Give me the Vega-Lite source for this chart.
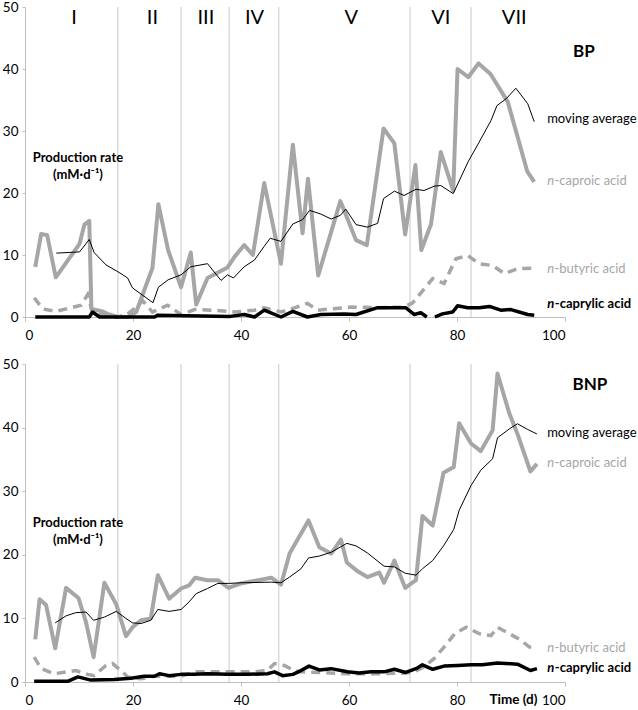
{
  "$schema": "https://vega.github.io/schema/vega-lite/v6.json",
  "description": "Production rates of carboxylic acids in BP and BNP reactors over time, by phase.",
  "padding": {"left": 2, "top": 0, "right": 0, "bottom": 0},
  "spacing": 15,
  "config": {
    "view": {"stroke": null},
    "font": "Lato",
    "axis": {
      "grid": false,
      "labelFont": "Lato",
      "labelFontSize": 13.5,
      "labelColor": "#000000",
      "domainColor": "#bfbfbf",
      "tickColor": "#bfbfbf",
      "tickSize": 4
    },
    "axisX": {
      "tickCount": 5,
      "labelPadding": 7,
      "titleFont": "Lato",
      "titleFontSize": 13.5,
      "titleFontWeight": "bold",
      "titleColor": "#000000",
      "titleX": 488,
      "titleY": 17,
      "titleAlign": "center",
      "titleBaseline": "middle"
    },
    "axisY": {"tickCount": 5, "labelPadding": 4, "tickSize": 3}
  },
  "datasets": {
    "phases": [
      {"x": 17.2}, {"x": 28.9}, {"x": 37.8}, {"x": 47.0}, {"x": 71.3}, {"x": 82.6}
    ],
    "series": [
      {"p": "BP", "s": "caproic", "x": 1.9, "y": 8.1},
      {"p": "BP", "s": "caproic", "x": 3.0, "y": 13.4},
      {"p": "BP", "s": "caproic", "x": 4.1, "y": 13.2},
      {"p": "BP", "s": "caproic", "x": 5.7, "y": 6.4},
      {"p": "BP", "s": "caproic", "x": 10.1, "y": 11.8},
      {"p": "BP", "s": "caproic", "x": 11.0, "y": 14.9},
      {"p": "BP", "s": "caproic", "x": 11.9, "y": 15.5},
      {"p": "BP", "s": "caproic", "x": 12.3, "y": 1.3},
      {"p": "BP", "s": "caproic", "x": 14.4, "y": 0.9},
      {"p": "BP", "s": "caproic", "x": 15.3, "y": 0.5},
      {"p": "BP", "s": "caproic", "x": 17.2, "y": 0},
      {"p": "BP", "s": "caproic", "x": 19.0, "y": 0},
      {"p": "BP", "s": "caproic", "x": 20.6, "y": 0.8},
      {"p": "BP", "s": "caproic", "x": 23.6, "y": 7.9},
      {"p": "BP", "s": "caproic", "x": 24.7, "y": 18.2},
      {"p": "BP", "s": "caproic", "x": 26.5, "y": 10.8},
      {"p": "BP", "s": "caproic", "x": 28.9, "y": 4.8},
      {"p": "BP", "s": "caproic", "x": 30.7, "y": 10.4},
      {"p": "BP", "s": "caproic", "x": 31.7, "y": 2.0},
      {"p": "BP", "s": "caproic", "x": 33.8, "y": 6.3},
      {"p": "BP", "s": "caproic", "x": 37.5, "y": 8.0},
      {"p": "BP", "s": "caproic", "x": 38.8, "y": 9.7},
      {"p": "BP", "s": "caproic", "x": 40.6, "y": 11.6},
      {"p": "BP", "s": "caproic", "x": 42.2, "y": 10.0},
      {"p": "BP", "s": "caproic", "x": 44.3, "y": 21.6},
      {"p": "BP", "s": "caproic", "x": 47.4, "y": 8.6},
      {"p": "BP", "s": "caproic", "x": 49.6, "y": 27.8},
      {"p": "BP", "s": "caproic", "x": 51.4, "y": 13.5},
      {"p": "BP", "s": "caproic", "x": 52.4, "y": 22.3},
      {"p": "BP", "s": "caproic", "x": 54.3, "y": 6.7},
      {"p": "BP", "s": "caproic", "x": 58.4, "y": 18.7},
      {"p": "BP", "s": "caproic", "x": 61.3, "y": 12.4},
      {"p": "BP", "s": "caproic", "x": 63.3, "y": 11.6},
      {"p": "BP", "s": "caproic", "x": 66.4, "y": 30.4},
      {"p": "BP", "s": "caproic", "x": 68.4, "y": 28.0},
      {"p": "BP", "s": "caproic", "x": 70.4, "y": 13.3},
      {"p": "BP", "s": "caproic", "x": 72.3, "y": 24.5},
      {"p": "BP", "s": "caproic", "x": 73.4, "y": 10.8},
      {"p": "BP", "s": "caproic", "x": 75.2, "y": 15.0},
      {"p": "BP", "s": "caproic", "x": 77.0, "y": 26.6},
      {"p": "BP", "s": "caproic", "x": 79.3, "y": 20.4},
      {"p": "BP", "s": "caproic", "x": 80.1, "y": 40.0},
      {"p": "BP", "s": "caproic", "x": 82.1, "y": 38.7},
      {"p": "BP", "s": "caproic", "x": 84.0, "y": 40.9},
      {"p": "BP", "s": "caproic", "x": 86.2, "y": 39.2},
      {"p": "BP", "s": "caproic", "x": 89.4, "y": 34.7},
      {"p": "BP", "s": "caproic", "x": 93.0, "y": 23.5},
      {"p": "BP", "s": "caproic", "x": 94.3, "y": 21.8},

      {"p": "BP", "s": "ma", "x": 5.8, "y": 10.3},
      {"p": "BP", "s": "ma", "x": 10.1, "y": 10.5},
      {"p": "BP", "s": "ma", "x": 11.9, "y": 12.5},
      {"p": "BP", "s": "ma", "x": 12.8, "y": 10.4},
      {"p": "BP", "s": "ma", "x": 15.0, "y": 8.4},
      {"p": "BP", "s": "ma", "x": 17.2, "y": 7.3},
      {"p": "BP", "s": "ma", "x": 19.0, "y": 6.3},
      {"p": "BP", "s": "ma", "x": 19.9, "y": 4.7},
      {"p": "BP", "s": "ma", "x": 23.7, "y": 2.3},
      {"p": "BP", "s": "ma", "x": 24.7, "y": 4.8},
      {"p": "BP", "s": "ma", "x": 26.5, "y": 6.0},
      {"p": "BP", "s": "ma", "x": 28.9, "y": 6.8},
      {"p": "BP", "s": "ma", "x": 30.7, "y": 8.1},
      {"p": "BP", "s": "ma", "x": 33.8, "y": 8.6},
      {"p": "BP", "s": "ma", "x": 36.3, "y": 5.9},
      {"p": "BP", "s": "ma", "x": 37.5, "y": 6.8},
      {"p": "BP", "s": "ma", "x": 38.6, "y": 6.3},
      {"p": "BP", "s": "ma", "x": 40.6, "y": 8.1},
      {"p": "BP", "s": "ma", "x": 42.5, "y": 9.2},
      {"p": "BP", "s": "ma", "x": 44.3, "y": 11.4},
      {"p": "BP", "s": "ma", "x": 45.4, "y": 12.7},
      {"p": "BP", "s": "ma", "x": 47.4, "y": 12.2},
      {"p": "BP", "s": "ma", "x": 49.6, "y": 15.0},
      {"p": "BP", "s": "ma", "x": 51.4, "y": 15.7},
      {"p": "BP", "s": "ma", "x": 52.7, "y": 17.2},
      {"p": "BP", "s": "ma", "x": 54.8, "y": 16.6},
      {"p": "BP", "s": "ma", "x": 56.7, "y": 15.8},
      {"p": "BP", "s": "ma", "x": 58.4, "y": 16.4},
      {"p": "BP", "s": "ma", "x": 59.4, "y": 17.4},
      {"p": "BP", "s": "ma", "x": 61.3, "y": 14.9},
      {"p": "BP", "s": "ma", "x": 63.4, "y": 14.5},
      {"p": "BP", "s": "ma", "x": 65.3, "y": 15.1},
      {"p": "BP", "s": "ma", "x": 66.4, "y": 19.1},
      {"p": "BP", "s": "ma", "x": 68.4, "y": 20.3},
      {"p": "BP", "s": "ma", "x": 70.2, "y": 19.6},
      {"p": "BP", "s": "ma", "x": 72.4, "y": 20.6},
      {"p": "BP", "s": "ma", "x": 73.9, "y": 20.4},
      {"p": "BP", "s": "ma", "x": 75.8, "y": 21.1},
      {"p": "BP", "s": "ma", "x": 77.0, "y": 21.2},
      {"p": "BP", "s": "ma", "x": 79.3, "y": 19.9},
      {"p": "BP", "s": "ma", "x": 82.1, "y": 25.1},
      {"p": "BP", "s": "ma", "x": 84.1, "y": 28.2},
      {"p": "BP", "s": "ma", "x": 86.3, "y": 31.7},
      {"p": "BP", "s": "ma", "x": 87.4, "y": 34.1},
      {"p": "BP", "s": "ma", "x": 89.1, "y": 35.2},
      {"p": "BP", "s": "ma", "x": 90.9, "y": 36.9},
      {"p": "BP", "s": "ma", "x": 93.1, "y": 34.4},
      {"p": "BP", "s": "ma", "x": 94.3, "y": 31.5},

      {"p": "BP", "s": "butyric", "x": 1.7, "y": 3.1},
      {"p": "BP", "s": "butyric", "x": 3.3, "y": 1.3},
      {"p": "BP", "s": "butyric", "x": 5.7, "y": 0.9},
      {"p": "BP", "s": "butyric", "x": 10.4, "y": 1.9},
      {"p": "BP", "s": "butyric", "x": 11.6, "y": 3.6},
      {"p": "BP", "s": "butyric", "x": 12.5, "y": 0.8},
      {"p": "BP", "s": "butyric", "x": 14.4, "y": 0.3},
      {"p": "BP", "s": "butyric", "x": 17.2, "y": 0},
      {"p": "BP", "s": "butyric", "x": 19.0, "y": 0.5},
      {"p": "BP", "s": "butyric", "x": 20.6, "y": 1.6},
      {"p": "BP", "s": "butyric", "x": 21.8, "y": 2.6},
      {"p": "BP", "s": "butyric", "x": 23.6, "y": 0.8},
      {"p": "BP", "s": "butyric", "x": 26.4, "y": 1.9},
      {"p": "BP", "s": "butyric", "x": 28.9, "y": 0.4},
      {"p": "BP", "s": "butyric", "x": 31.4, "y": 1.2},
      {"p": "BP", "s": "butyric", "x": 34.8, "y": 1.1},
      {"p": "BP", "s": "butyric", "x": 38.8, "y": 0.8},
      {"p": "BP", "s": "butyric", "x": 42.5, "y": 1.1},
      {"p": "BP", "s": "butyric", "x": 44.3, "y": 1.5},
      {"p": "BP", "s": "butyric", "x": 47.4, "y": 0.8},
      {"p": "BP", "s": "butyric", "x": 49.6, "y": 1.4},
      {"p": "BP", "s": "butyric", "x": 52.3, "y": 2.2},
      {"p": "BP", "s": "butyric", "x": 54.2, "y": 1.1},
      {"p": "BP", "s": "butyric", "x": 60.4, "y": 1.6},
      {"p": "BP", "s": "butyric", "x": 65.3, "y": 1.5},
      {"p": "BP", "s": "butyric", "x": 70.2, "y": 1.6},
      {"p": "BP", "s": "butyric", "x": 71.8, "y": 2.3},
      {"p": "BP", "s": "butyric", "x": 75.5, "y": 6.2},
      {"p": "BP", "s": "butyric", "x": 77.6, "y": 5.4},
      {"p": "BP", "s": "butyric", "x": 79.8, "y": 9.4},
      {"p": "BP", "s": "butyric", "x": 82.0, "y": 9.9},
      {"p": "BP", "s": "butyric", "x": 84.1, "y": 8.6},
      {"p": "BP", "s": "butyric", "x": 86.6, "y": 8.3},
      {"p": "BP", "s": "butyric", "x": 88.8, "y": 7.0},
      {"p": "BP", "s": "butyric", "x": 91.2, "y": 7.8},
      {"p": "BP", "s": "butyric", "x": 94.3, "y": 7.9},

      {"p": "BP", "s": "caprylic", "x": 1.9, "y": 0},
      {"p": "BP", "s": "caprylic", "x": 11.9, "y": 0},
      {"p": "BP", "s": "caprylic", "x": 12.5, "y": 0.8},
      {"p": "BP", "s": "caprylic", "x": 13.8, "y": 0},
      {"p": "BP", "s": "caprylic", "x": 24.0, "y": 0},
      {"p": "BP", "s": "caprylic", "x": 24.6, "y": 0.3},
      {"p": "BP", "s": "caprylic", "x": 30.0, "y": 0.2},
      {"p": "BP", "s": "caprylic", "x": 38.0, "y": 0.1},
      {"p": "BP", "s": "caprylic", "x": 40.6, "y": 0.4},
      {"p": "BP", "s": "caprylic", "x": 42.5, "y": 0},
      {"p": "BP", "s": "caprylic", "x": 44.3, "y": 1.1},
      {"p": "BP", "s": "caprylic", "x": 47.4, "y": 0},
      {"p": "BP", "s": "caprylic", "x": 49.6, "y": 0.9},
      {"p": "BP", "s": "caprylic", "x": 52.3, "y": 0},
      {"p": "BP", "s": "caprylic", "x": 54.8, "y": 0.4},
      {"p": "BP", "s": "caprylic", "x": 59.1, "y": 0.5},
      {"p": "BP", "s": "caprylic", "x": 61.3, "y": 0.4},
      {"p": "BP", "s": "caprylic", "x": 65.3, "y": 1.5},
      {"p": "BP", "s": "caprylic", "x": 69.0, "y": 1.5},
      {"p": "BP", "s": "caprylic", "x": 70.5, "y": 1.5},
      {"p": "BP", "s": "caprylic", "x": 72.1, "y": 0.4},
      {"p": "BP", "s": "caprylic", "x": 73.3, "y": 0.7},
      {"p": "BP", "s": "caprylic", "x": 74.4, "y": 0},
      {"p": "BP", "s": "caprylic", "x": 74.8, "y": null},
      {"p": "BP", "s": "caprylic", "x": 75.9, "y": 0},
      {"p": "BP", "s": "caprylic", "x": 77.3, "y": 0.5},
      {"p": "BP", "s": "caprylic", "x": 79.2, "y": 0.8},
      {"p": "BP", "s": "caprylic", "x": 80.1, "y": 1.8},
      {"p": "BP", "s": "caprylic", "x": 82.0, "y": 1.5},
      {"p": "BP", "s": "caprylic", "x": 84.1, "y": 1.5},
      {"p": "BP", "s": "caprylic", "x": 86.0, "y": 1.7},
      {"p": "BP", "s": "caprylic", "x": 88.1, "y": 1.1},
      {"p": "BP", "s": "caprylic", "x": 90.0, "y": 1.2},
      {"p": "BP", "s": "caprylic", "x": 93.1, "y": 0.4},
      {"p": "BP", "s": "caprylic", "x": 94.3, "y": 0.3},

      {"p": "BNP", "s": "caproic", "x": 1.9, "y": 6.7},
      {"p": "BNP", "s": "caproic", "x": 2.7, "y": 13.0},
      {"p": "BNP", "s": "caproic", "x": 3.9, "y": 12.1},
      {"p": "BNP", "s": "caproic", "x": 5.6, "y": 5.3},
      {"p": "BNP", "s": "caproic", "x": 7.6, "y": 14.8},
      {"p": "BNP", "s": "caproic", "x": 9.9, "y": 13.2},
      {"p": "BNP", "s": "caproic", "x": 11.3, "y": 9.4},
      {"p": "BNP", "s": "caproic", "x": 12.7, "y": 3.9},
      {"p": "BNP", "s": "caproic", "x": 14.7, "y": 15.6},
      {"p": "BNP", "s": "caproic", "x": 16.9, "y": 12.2},
      {"p": "BNP", "s": "caproic", "x": 18.7, "y": 7.2},
      {"p": "BNP", "s": "caproic", "x": 19.9, "y": 8.6},
      {"p": "BNP", "s": "caproic", "x": 21.5, "y": 9.7},
      {"p": "BNP", "s": "caproic", "x": 23.3, "y": 10.0},
      {"p": "BNP", "s": "caproic", "x": 24.6, "y": 16.8},
      {"p": "BNP", "s": "caproic", "x": 26.7, "y": 13.1},
      {"p": "BNP", "s": "caproic", "x": 28.9, "y": 14.7},
      {"p": "BNP", "s": "caproic", "x": 30.4, "y": 15.2},
      {"p": "BNP", "s": "caproic", "x": 31.5, "y": 16.4},
      {"p": "BNP", "s": "caproic", "x": 33.8, "y": 16.0},
      {"p": "BNP", "s": "caproic", "x": 35.7, "y": 16.0},
      {"p": "BNP", "s": "caproic", "x": 37.7, "y": 14.8},
      {"p": "BNP", "s": "caproic", "x": 40.0, "y": 15.5},
      {"p": "BNP", "s": "caproic", "x": 45.6, "y": 16.4},
      {"p": "BNP", "s": "caproic", "x": 47.4, "y": 15.3},
      {"p": "BNP", "s": "caproic", "x": 49.0, "y": 20.2},
      {"p": "BNP", "s": "caproic", "x": 52.5, "y": 25.4},
      {"p": "BNP", "s": "caproic", "x": 54.5, "y": 21.2},
      {"p": "BNP", "s": "caproic", "x": 56.7, "y": 20.2},
      {"p": "BNP", "s": "caproic", "x": 58.5, "y": 22.4},
      {"p": "BNP", "s": "caproic", "x": 59.6, "y": 18.8},
      {"p": "BNP", "s": "caproic", "x": 61.6, "y": 17.4},
      {"p": "BNP", "s": "caproic", "x": 63.4, "y": 16.5},
      {"p": "BNP", "s": "caproic", "x": 65.6, "y": 17.2},
      {"p": "BNP", "s": "caproic", "x": 66.5, "y": 15.6},
      {"p": "BNP", "s": "caproic", "x": 68.4, "y": 19.1},
      {"p": "BNP", "s": "caproic", "x": 70.4, "y": 14.8},
      {"p": "BNP", "s": "caproic", "x": 72.4, "y": 16.0},
      {"p": "BNP", "s": "caproic", "x": 73.6, "y": 26.1},
      {"p": "BNP", "s": "caproic", "x": 75.5, "y": 24.6},
      {"p": "BNP", "s": "caproic", "x": 77.5, "y": 32.9},
      {"p": "BNP", "s": "caproic", "x": 79.4, "y": 33.8},
      {"p": "BNP", "s": "caproic", "x": 80.4, "y": 40.7},
      {"p": "BNP", "s": "caproic", "x": 82.6, "y": 37.5},
      {"p": "BNP", "s": "caproic", "x": 84.4, "y": 36.3},
      {"p": "BNP", "s": "caproic", "x": 86.6, "y": 39.6},
      {"p": "BNP", "s": "caproic", "x": 87.5, "y": 48.5},
      {"p": "BNP", "s": "caproic", "x": 89.7, "y": 42.2},
      {"p": "BNP", "s": "caproic", "x": 91.2, "y": 39.0},
      {"p": "BNP", "s": "caproic", "x": 93.6, "y": 33.1},
      {"p": "BNP", "s": "caproic", "x": 94.8, "y": 34.3},

      {"p": "BNP", "s": "ma", "x": 5.6, "y": 9.3},
      {"p": "BNP", "s": "ma", "x": 7.6, "y": 10.4},
      {"p": "BNP", "s": "ma", "x": 9.4, "y": 10.9},
      {"p": "BNP", "s": "ma", "x": 11.3, "y": 11.0},
      {"p": "BNP", "s": "ma", "x": 12.7, "y": 9.7},
      {"p": "BNP", "s": "ma", "x": 14.7, "y": 10.2},
      {"p": "BNP", "s": "ma", "x": 16.9, "y": 11.1},
      {"p": "BNP", "s": "ma", "x": 18.7, "y": 10.0},
      {"p": "BNP", "s": "ma", "x": 19.9, "y": 9.3},
      {"p": "BNP", "s": "ma", "x": 21.5, "y": 9.2},
      {"p": "BNP", "s": "ma", "x": 23.3, "y": 9.7},
      {"p": "BNP", "s": "ma", "x": 24.6, "y": 11.4},
      {"p": "BNP", "s": "ma", "x": 26.7, "y": 11.1},
      {"p": "BNP", "s": "ma", "x": 28.9, "y": 11.4},
      {"p": "BNP", "s": "ma", "x": 30.4, "y": 12.6},
      {"p": "BNP", "s": "ma", "x": 31.7, "y": 13.9},
      {"p": "BNP", "s": "ma", "x": 33.8, "y": 14.7},
      {"p": "BNP", "s": "ma", "x": 35.7, "y": 15.5},
      {"p": "BNP", "s": "ma", "x": 37.7, "y": 15.5},
      {"p": "BNP", "s": "ma", "x": 40.0, "y": 15.6},
      {"p": "BNP", "s": "ma", "x": 45.6, "y": 15.7},
      {"p": "BNP", "s": "ma", "x": 47.4, "y": 15.6},
      {"p": "BNP", "s": "ma", "x": 49.0, "y": 16.5},
      {"p": "BNP", "s": "ma", "x": 51.1, "y": 17.8},
      {"p": "BNP", "s": "ma", "x": 52.5, "y": 19.5},
      {"p": "BNP", "s": "ma", "x": 54.5, "y": 19.8},
      {"p": "BNP", "s": "ma", "x": 56.7, "y": 20.4},
      {"p": "BNP", "s": "ma", "x": 59.6, "y": 21.8},
      {"p": "BNP", "s": "ma", "x": 61.3, "y": 21.4},
      {"p": "BNP", "s": "ma", "x": 63.4, "y": 20.3},
      {"p": "BNP", "s": "ma", "x": 66.5, "y": 18.2},
      {"p": "BNP", "s": "ma", "x": 68.4, "y": 18.1},
      {"p": "BNP", "s": "ma", "x": 70.4, "y": 17.1},
      {"p": "BNP", "s": "ma", "x": 72.4, "y": 16.8},
      {"p": "BNP", "s": "ma", "x": 73.6, "y": 17.8},
      {"p": "BNP", "s": "ma", "x": 75.5, "y": 19.1},
      {"p": "BNP", "s": "ma", "x": 77.5, "y": 21.4},
      {"p": "BNP", "s": "ma", "x": 79.4, "y": 24.0},
      {"p": "BNP", "s": "ma", "x": 80.4, "y": 27.0},
      {"p": "BNP", "s": "ma", "x": 82.6, "y": 30.9},
      {"p": "BNP", "s": "ma", "x": 84.4, "y": 33.3},
      {"p": "BNP", "s": "ma", "x": 86.6, "y": 35.1},
      {"p": "BNP", "s": "ma", "x": 87.5, "y": 38.4},
      {"p": "BNP", "s": "ma", "x": 89.7, "y": 39.8},
      {"p": "BNP", "s": "ma", "x": 91.2, "y": 40.6},
      {"p": "BNP", "s": "ma", "x": 93.1, "y": 39.7},
      {"p": "BNP", "s": "ma", "x": 94.8, "y": 39.0},

      {"p": "BNP", "s": "butyric", "x": 1.7, "y": 3.9},
      {"p": "BNP", "s": "butyric", "x": 3.0, "y": 2.1},
      {"p": "BNP", "s": "butyric", "x": 5.4, "y": 1.3},
      {"p": "BNP", "s": "butyric", "x": 7.9, "y": 1.6},
      {"p": "BNP", "s": "butyric", "x": 9.4, "y": 1.8},
      {"p": "BNP", "s": "butyric", "x": 11.6, "y": 1.2},
      {"p": "BNP", "s": "butyric", "x": 12.8, "y": 1.0},
      {"p": "BNP", "s": "butyric", "x": 15.0, "y": 2.6},
      {"p": "BNP", "s": "butyric", "x": 16.2, "y": 2.9},
      {"p": "BNP", "s": "butyric", "x": 17.8, "y": 1.8},
      {"p": "BNP", "s": "butyric", "x": 19.0, "y": 0.8},
      {"p": "BNP", "s": "butyric", "x": 21.5, "y": 0.5},
      {"p": "BNP", "s": "butyric", "x": 24.0, "y": 0.9},
      {"p": "BNP", "s": "butyric", "x": 28.9, "y": 0.9},
      {"p": "BNP", "s": "butyric", "x": 31.4, "y": 1.6},
      {"p": "BNP", "s": "butyric", "x": 38.8, "y": 1.6},
      {"p": "BNP", "s": "butyric", "x": 42.5, "y": 1.6},
      {"p": "BNP", "s": "butyric", "x": 44.9, "y": 1.8},
      {"p": "BNP", "s": "butyric", "x": 46.2, "y": 2.9},
      {"p": "BNP", "s": "butyric", "x": 48.0, "y": 2.6},
      {"p": "BNP", "s": "butyric", "x": 49.9, "y": 1.8},
      {"p": "BNP", "s": "butyric", "x": 51.1, "y": 1.6},
      {"p": "BNP", "s": "butyric", "x": 54.5, "y": 1.5},
      {"p": "BNP", "s": "butyric", "x": 60.0, "y": 1.3},
      {"p": "BNP", "s": "butyric", "x": 66.0, "y": 1.3},
      {"p": "BNP", "s": "butyric", "x": 70.5, "y": 1.4},
      {"p": "BNP", "s": "butyric", "x": 72.1, "y": 1.6},
      {"p": "BNP", "s": "butyric", "x": 73.9, "y": 2.4},
      {"p": "BNP", "s": "butyric", "x": 75.8, "y": 3.7},
      {"p": "BNP", "s": "butyric", "x": 77.6, "y": 5.5},
      {"p": "BNP", "s": "butyric", "x": 79.6, "y": 7.6},
      {"p": "BNP", "s": "butyric", "x": 81.7, "y": 8.6},
      {"p": "BNP", "s": "butyric", "x": 84.1, "y": 7.6},
      {"p": "BNP", "s": "butyric", "x": 86.3, "y": 7.3},
      {"p": "BNP", "s": "butyric", "x": 87.5, "y": 8.6},
      {"p": "BNP", "s": "butyric", "x": 89.7, "y": 7.6},
      {"p": "BNP", "s": "butyric", "x": 91.8, "y": 6.6},
      {"p": "BNP", "s": "butyric", "x": 93.4, "y": 5.5},
      {"p": "BNP", "s": "butyric", "x": 94.8, "y": 5.5},

      {"p": "BNP", "s": "caprylic", "x": 1.7, "y": 0.1},
      {"p": "BNP", "s": "caprylic", "x": 7.9, "y": 0.1},
      {"p": "BNP", "s": "caprylic", "x": 9.8, "y": 0.8},
      {"p": "BNP", "s": "caprylic", "x": 12.2, "y": 0.3},
      {"p": "BNP", "s": "caprylic", "x": 16.5, "y": 0.4},
      {"p": "BNP", "s": "caprylic", "x": 19.6, "y": 0.6},
      {"p": "BNP", "s": "caprylic", "x": 22.1, "y": 0.9},
      {"p": "BNP", "s": "caprylic", "x": 24.0, "y": 0.9},
      {"p": "BNP", "s": "caprylic", "x": 24.9, "y": 1.3},
      {"p": "BNP", "s": "caprylic", "x": 26.7, "y": 1.0},
      {"p": "BNP", "s": "caprylic", "x": 28.9, "y": 1.2},
      {"p": "BNP", "s": "caprylic", "x": 31.4, "y": 1.2},
      {"p": "BNP", "s": "caprylic", "x": 33.8, "y": 1.3},
      {"p": "BNP", "s": "caprylic", "x": 37.5, "y": 1.2},
      {"p": "BNP", "s": "caprylic", "x": 41.2, "y": 1.2},
      {"p": "BNP", "s": "caprylic", "x": 44.9, "y": 1.3},
      {"p": "BNP", "s": "caprylic", "x": 46.2, "y": 1.6},
      {"p": "BNP", "s": "caprylic", "x": 47.7, "y": 1.0},
      {"p": "BNP", "s": "caprylic", "x": 49.6, "y": 1.2},
      {"p": "BNP", "s": "caprylic", "x": 51.1, "y": 1.8},
      {"p": "BNP", "s": "caprylic", "x": 52.6, "y": 2.5},
      {"p": "BNP", "s": "caprylic", "x": 54.5, "y": 1.9},
      {"p": "BNP", "s": "caprylic", "x": 56.7, "y": 2.1},
      {"p": "BNP", "s": "caprylic", "x": 59.7, "y": 1.6},
      {"p": "BNP", "s": "caprylic", "x": 61.9, "y": 1.4},
      {"p": "BNP", "s": "caprylic", "x": 64.1, "y": 1.6},
      {"p": "BNP", "s": "caprylic", "x": 66.5, "y": 1.6},
      {"p": "BNP", "s": "caprylic", "x": 68.4, "y": 2.0},
      {"p": "BNP", "s": "caprylic", "x": 70.5, "y": 1.5},
      {"p": "BNP", "s": "caprylic", "x": 72.4, "y": 2.1},
      {"p": "BNP", "s": "caprylic", "x": 73.6, "y": 2.7},
      {"p": "BNP", "s": "caprylic", "x": 75.5, "y": 2.0},
      {"p": "BNP", "s": "caprylic", "x": 77.6, "y": 2.5},
      {"p": "BNP", "s": "caprylic", "x": 80.1, "y": 2.6},
      {"p": "BNP", "s": "caprylic", "x": 82.6, "y": 2.7},
      {"p": "BNP", "s": "caprylic", "x": 84.7, "y": 2.7},
      {"p": "BNP", "s": "caprylic", "x": 87.5, "y": 3.0},
      {"p": "BNP", "s": "caprylic", "x": 91.2, "y": 2.8},
      {"p": "BNP", "s": "caprylic", "x": 93.6, "y": 1.8},
      {"p": "BNP", "s": "caprylic", "x": 94.8, "y": 2.1}
    ],
    "labels": [
      {"p": "BP", "s": "ma", "rest": "moving average", "x": 96.7, "y": 32.0},
      {"p": "BP", "s": "caproic", "rest": "-caproic acid", "x": 96.7, "y": 21.9},
      {"p": "BP", "s": "butyric", "rest": "-butyric acid", "x": 96.7, "y": 7.8},
      {"p": "BP", "s": "caprylic", "rest": "-caprylic acid", "x": 96.7, "y": 2.1},
      {"p": "BNP", "s": "ma", "rest": "moving average", "x": 96.7, "y": 39.2},
      {"p": "BNP", "s": "caproic", "rest": "-caproic acid", "x": 96.7, "y": 34.4},
      {"p": "BNP", "s": "butyric", "rest": "-butyric acid", "x": 96.7, "y": 5.4},
      {"p": "BNP", "s": "caprylic", "rest": "-caprylic acid", "x": 96.7, "y": 2.2}
    ],
    "notes": [
      {"p": "BP", "k": "title", "t": "BP", "x": 103.5, "y": 42.7},
      {"p": "BNP", "k": "title", "t": "BNP", "x": 104.6, "y": 46.7},
      {"p": "BP", "k": "unit", "t": "Production rate\n(mM·d⁻¹)", "x": 9.8, "y": 25.6},
      {"p": "BNP", "k": "unit", "t": "Production rate\n(mM·d⁻¹)", "x": 9.8, "y": 25.0},
      {"p": "BP", "k": "phase", "t": "I", "x": 9.1, "y": 48.3},
      {"p": "BP", "k": "phase", "t": "II", "x": 23.6, "y": 48.3},
      {"p": "BP", "k": "phase", "t": "III", "x": 33.5, "y": 48.3},
      {"p": "BP", "k": "phase", "t": "IV", "x": 42.5, "y": 48.3},
      {"p": "BP", "k": "phase", "t": "V", "x": 60.4, "y": 48.3},
      {"p": "BP", "k": "phase", "t": "VI", "x": 77.0, "y": 48.3},
      {"p": "BP", "k": "phase", "t": "VII", "x": 90.6, "y": 48.3}
    ]
  },
  "vconcat": [
    {
      "width": 540,
      "height": 310,
      "layer": [
        {
          "data": {"name": "phases"},
          "mark": {"type": "rule", "color": "#c8c8c8", "strokeWidth": 1},
          "encoding": {
            "x": {"field": "x", "type": "quantitative", "scale": {"domain": [0, 100], "nice": false}, "title": null}
          }
        },
        {
          "data": {"name": "series"},
          "transform": [{"filter": "datum.p == 'BP' && datum.s == 'butyric'"}],
          "mark": {"type": "line", "color": "#a6a6a6", "strokeWidth": 3.5, "strokeDash": [9, 6]},
          "encoding": {
            "x": {"field": "x", "type": "quantitative", "scale": {"domain": [0, 100], "nice": false}, "title": null},
            "y": {"field": "y", "type": "quantitative", "scale": {"domain": [0, 50], "nice": false}, "title": null}
          }
        },
        {
          "data": {"name": "series"},
          "transform": [{"filter": "datum.p == 'BP' && datum.s == 'caproic'"}],
          "mark": {"type": "line", "color": "#a6a6a6", "strokeWidth": 4, "strokeJoin": "round"},
          "encoding": {
            "x": {"field": "x", "type": "quantitative", "scale": {"domain": [0, 100], "nice": false}, "title": null},
            "y": {"field": "y", "type": "quantitative", "scale": {"domain": [0, 50], "nice": false}, "title": null}
          }
        },
        {
          "data": {"name": "series"},
          "transform": [{"filter": "datum.p == 'BP' && datum.s == 'caprylic'"}],
          "mark": {"type": "line", "color": "#000000", "strokeWidth": 3.5, "strokeJoin": "round"},
          "encoding": {
            "x": {"field": "x", "type": "quantitative", "scale": {"domain": [0, 100], "nice": false}, "title": null},
            "y": {"field": "y", "type": "quantitative", "scale": {"domain": [0, 50], "nice": false}, "title": null}
          }
        },
        {
          "data": {"name": "series"},
          "transform": [{"filter": "datum.p == 'BP' && datum.s == 'ma'"}],
          "mark": {"type": "line", "color": "#000000", "strokeWidth": 1},
          "encoding": {
            "x": {"field": "x", "type": "quantitative", "scale": {"domain": [0, 100], "nice": false}, "title": null},
            "y": {"field": "y", "type": "quantitative", "scale": {"domain": [0, 50], "nice": false}, "title": null}
          }
        },
        {
          "data": {"name": "labels"},
          "transform": [{"filter": "datum.p == 'BP' && datum.s == 'ma'"}],
          "mark": {"type": "text", "align": "left", "baseline": "middle", "fontSize": 13, "color": "#000000"},
          "encoding": {
            "x": {"field": "x", "type": "quantitative", "scale": {"domain": [0, 100], "nice": false}, "title": null},
            "y": {"field": "y", "type": "quantitative", "scale": {"domain": [0, 50], "nice": false}, "title": null},
            "text": {"field": "rest"}
          }
        },
        {
          "data": {"name": "labels"},
          "transform": [{"filter": "datum.p == 'BP' && (datum.s == 'caproic' || datum.s == 'butyric')"}],
          "mark": {"type": "text", "align": "left", "baseline": "middle", "fontSize": 13, "fontStyle": "italic", "color": "#a6a6a6", "text": "n"},
          "encoding": {
            "x": {"field": "x", "type": "quantitative", "scale": {"domain": [0, 100], "nice": false}, "title": null},
            "y": {"field": "y", "type": "quantitative", "scale": {"domain": [0, 50], "nice": false}, "title": null}
          }
        },
        {
          "data": {"name": "labels"},
          "transform": [{"filter": "datum.p == 'BP' && (datum.s == 'caproic' || datum.s == 'butyric')"}],
          "mark": {"type": "text", "align": "left", "baseline": "middle", "fontSize": 13, "color": "#a6a6a6", "dx": 7.2},
          "encoding": {
            "x": {"field": "x", "type": "quantitative", "scale": {"domain": [0, 100], "nice": false}, "title": null},
            "y": {"field": "y", "type": "quantitative", "scale": {"domain": [0, 50], "nice": false}, "title": null},
            "text": {"field": "rest"}
          }
        },
        {
          "data": {"name": "labels"},
          "transform": [{"filter": "datum.p == 'BP' && datum.s == 'caprylic'"}],
          "mark": {"type": "text", "align": "left", "baseline": "middle", "fontSize": 13, "fontStyle": "italic", "fontWeight": "bold", "color": "#000000", "text": "n"},
          "encoding": {
            "x": {"field": "x", "type": "quantitative", "scale": {"domain": [0, 100], "nice": false}, "title": null},
            "y": {"field": "y", "type": "quantitative", "scale": {"domain": [0, 50], "nice": false}, "title": null}
          }
        },
        {
          "data": {"name": "labels"},
          "transform": [{"filter": "datum.p == 'BP' && datum.s == 'caprylic'"}],
          "mark": {"type": "text", "align": "left", "baseline": "middle", "fontSize": 13, "fontWeight": "bold", "color": "#000000", "dx": 7.6},
          "encoding": {
            "x": {"field": "x", "type": "quantitative", "scale": {"domain": [0, 100], "nice": false}, "title": null},
            "y": {"field": "y", "type": "quantitative", "scale": {"domain": [0, 50], "nice": false}, "title": null},
            "text": {"field": "rest"}
          }
        },
        {
          "data": {"name": "notes"},
          "transform": [{"filter": "datum.p == 'BP' && datum.k == 'title'"}],
          "mark": {"type": "text", "align": "center", "baseline": "middle", "fontSize": 17, "fontWeight": "bold", "color": "#000000"},
          "encoding": {
            "x": {"field": "x", "type": "quantitative", "scale": {"domain": [0, 100], "nice": false}, "title": null},
            "y": {"field": "y", "type": "quantitative", "scale": {"domain": [0, 50], "nice": false}, "title": null},
            "text": {"field": "t"}
          }
        },
        {
          "data": {"name": "notes"},
          "transform": [{"filter": "datum.p == 'BP' && datum.k == 'unit'"}],
          "mark": {"type": "text", "align": "center", "baseline": "middle", "fontSize": 13, "fontWeight": "bold", "color": "#000000", "lineBreak": "\n", "lineHeight": 17},
          "encoding": {
            "x": {"field": "x", "type": "quantitative", "scale": {"domain": [0, 100], "nice": false}, "title": null},
            "y": {"field": "y", "type": "quantitative", "scale": {"domain": [0, 50], "nice": false}, "title": null},
            "text": {"field": "t"}
          }
        },
        {
          "data": {"name": "notes"},
          "transform": [{"filter": "datum.p == 'BP' && datum.k == 'phase'"}],
          "mark": {"type": "text", "align": "center", "baseline": "middle", "fontSize": 20, "color": "#000000"},
          "encoding": {
            "x": {"field": "x", "type": "quantitative", "scale": {"domain": [0, 100], "nice": false}, "title": null},
            "y": {"field": "y", "type": "quantitative", "scale": {"domain": [0, 50], "nice": false}, "title": null},
            "text": {"field": "t"}
          }
        }
      ]
    },
    {
      "width": 540,
      "height": 318,
      "layer": [
        {
          "data": {"name": "phases"},
          "mark": {"type": "rule", "color": "#c8c8c8", "strokeWidth": 1},
          "encoding": {
            "x": {"field": "x", "type": "quantitative", "scale": {"domain": [0, 100], "nice": false}, "title": "Time (d)"}
          }
        },
        {
          "data": {"name": "series"},
          "transform": [{"filter": "datum.p == 'BNP' && datum.s == 'butyric'"}],
          "mark": {"type": "line", "color": "#a6a6a6", "strokeWidth": 3.5, "strokeDash": [9, 6]},
          "encoding": {
            "x": {"field": "x", "type": "quantitative", "scale": {"domain": [0, 100], "nice": false}, "title": "Time (d)"},
            "y": {"field": "y", "type": "quantitative", "scale": {"domain": [0, 50], "nice": false}, "title": null}
          }
        },
        {
          "data": {"name": "series"},
          "transform": [{"filter": "datum.p == 'BNP' && datum.s == 'caproic'"}],
          "mark": {"type": "line", "color": "#a6a6a6", "strokeWidth": 4, "strokeJoin": "round"},
          "encoding": {
            "x": {"field": "x", "type": "quantitative", "scale": {"domain": [0, 100], "nice": false}, "title": "Time (d)"},
            "y": {"field": "y", "type": "quantitative", "scale": {"domain": [0, 50], "nice": false}, "title": null}
          }
        },
        {
          "data": {"name": "series"},
          "transform": [{"filter": "datum.p == 'BNP' && datum.s == 'caprylic'"}],
          "mark": {"type": "line", "color": "#000000", "strokeWidth": 3.5, "strokeJoin": "round"},
          "encoding": {
            "x": {"field": "x", "type": "quantitative", "scale": {"domain": [0, 100], "nice": false}, "title": "Time (d)"},
            "y": {"field": "y", "type": "quantitative", "scale": {"domain": [0, 50], "nice": false}, "title": null}
          }
        },
        {
          "data": {"name": "series"},
          "transform": [{"filter": "datum.p == 'BNP' && datum.s == 'ma'"}],
          "mark": {"type": "line", "color": "#000000", "strokeWidth": 1},
          "encoding": {
            "x": {"field": "x", "type": "quantitative", "scale": {"domain": [0, 100], "nice": false}, "title": "Time (d)"},
            "y": {"field": "y", "type": "quantitative", "scale": {"domain": [0, 50], "nice": false}, "title": null}
          }
        },
        {
          "data": {"name": "labels"},
          "transform": [{"filter": "datum.p == 'BNP' && datum.s == 'ma'"}],
          "mark": {"type": "text", "align": "left", "baseline": "middle", "fontSize": 13, "color": "#000000"},
          "encoding": {
            "x": {"field": "x", "type": "quantitative", "scale": {"domain": [0, 100], "nice": false}, "title": "Time (d)"},
            "y": {"field": "y", "type": "quantitative", "scale": {"domain": [0, 50], "nice": false}, "title": null},
            "text": {"field": "rest"}
          }
        },
        {
          "data": {"name": "labels"},
          "transform": [{"filter": "datum.p == 'BNP' && (datum.s == 'caproic' || datum.s == 'butyric')"}],
          "mark": {"type": "text", "align": "left", "baseline": "middle", "fontSize": 13, "fontStyle": "italic", "color": "#a6a6a6", "text": "n"},
          "encoding": {
            "x": {"field": "x", "type": "quantitative", "scale": {"domain": [0, 100], "nice": false}, "title": "Time (d)"},
            "y": {"field": "y", "type": "quantitative", "scale": {"domain": [0, 50], "nice": false}, "title": null}
          }
        },
        {
          "data": {"name": "labels"},
          "transform": [{"filter": "datum.p == 'BNP' && (datum.s == 'caproic' || datum.s == 'butyric')"}],
          "mark": {"type": "text", "align": "left", "baseline": "middle", "fontSize": 13, "color": "#a6a6a6", "dx": 7.2},
          "encoding": {
            "x": {"field": "x", "type": "quantitative", "scale": {"domain": [0, 100], "nice": false}, "title": "Time (d)"},
            "y": {"field": "y", "type": "quantitative", "scale": {"domain": [0, 50], "nice": false}, "title": null},
            "text": {"field": "rest"}
          }
        },
        {
          "data": {"name": "labels"},
          "transform": [{"filter": "datum.p == 'BNP' && datum.s == 'caprylic'"}],
          "mark": {"type": "text", "align": "left", "baseline": "middle", "fontSize": 13, "fontStyle": "italic", "fontWeight": "bold", "color": "#000000", "text": "n"},
          "encoding": {
            "x": {"field": "x", "type": "quantitative", "scale": {"domain": [0, 100], "nice": false}, "title": "Time (d)"},
            "y": {"field": "y", "type": "quantitative", "scale": {"domain": [0, 50], "nice": false}, "title": null}
          }
        },
        {
          "data": {"name": "labels"},
          "transform": [{"filter": "datum.p == 'BNP' && datum.s == 'caprylic'"}],
          "mark": {"type": "text", "align": "left", "baseline": "middle", "fontSize": 13, "fontWeight": "bold", "color": "#000000", "dx": 7.6},
          "encoding": {
            "x": {"field": "x", "type": "quantitative", "scale": {"domain": [0, 100], "nice": false}, "title": "Time (d)"},
            "y": {"field": "y", "type": "quantitative", "scale": {"domain": [0, 50], "nice": false}, "title": null},
            "text": {"field": "rest"}
          }
        },
        {
          "data": {"name": "notes"},
          "transform": [{"filter": "datum.p == 'BNP' && datum.k == 'title'"}],
          "mark": {"type": "text", "align": "center", "baseline": "middle", "fontSize": 17, "fontWeight": "bold", "color": "#000000"},
          "encoding": {
            "x": {"field": "x", "type": "quantitative", "scale": {"domain": [0, 100], "nice": false}, "title": "Time (d)"},
            "y": {"field": "y", "type": "quantitative", "scale": {"domain": [0, 50], "nice": false}, "title": null},
            "text": {"field": "t"}
          }
        },
        {
          "data": {"name": "notes"},
          "transform": [{"filter": "datum.p == 'BNP' && datum.k == 'unit'"}],
          "mark": {"type": "text", "align": "center", "baseline": "middle", "fontSize": 13, "fontWeight": "bold", "color": "#000000", "lineBreak": "\n", "lineHeight": 17},
          "encoding": {
            "x": {"field": "x", "type": "quantitative", "scale": {"domain": [0, 100], "nice": false}, "title": "Time (d)"},
            "y": {"field": "y", "type": "quantitative", "scale": {"domain": [0, 50], "nice": false}, "title": null},
            "text": {"field": "t"}
          }
        }
      ]
    }
  ]
}
